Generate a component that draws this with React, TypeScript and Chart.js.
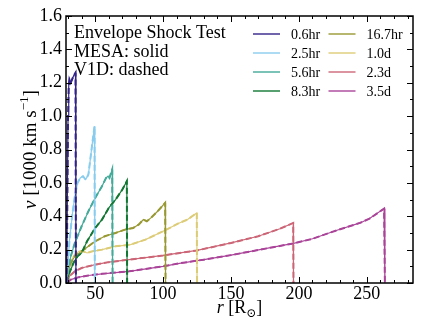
import React, { useEffect, useRef } from "react";
import { Chart, registerables } from "chart.js";
Chart.register(...registerables);

const SERIF = "'Liberation Serif', 'Times New Roman', 'DejaVu Serif', serif";

// ---- data ----
const seriesLabels = ["0.6hr", "2.5hr", "5.6hr", "8.3hr", "16.7hr", "1.0d", "2.3d", "3.5d"];
const seriesColors = ["#332288", "#88CCEE", "#44AA99", "#117733", "#999933", "#DDCC77", "#CC6677", "#AA4499"];

const r_06 = [29, 29.5, 30, 30.5, 31, 32, 33, 34, 35.5, 35.8];
const v_06 = [0, 0.5, 1.0, 1.18, 1.22, 1.2, 1.22, 1.24, 1.26, 0];

const r_25 = [29, 30, 31, 33, 35, 37, 39, 41, 43, 45, 47, 49.5, 49.7];
const v_25 = [0, 0.12, 0.25, 0.4, 0.52, 0.6, 0.63, 0.64, 0.62, 0.65, 0.78, 0.94, 0];

const r_56 = [29, 30, 32, 35, 40, 45, 50, 55, 58, 59.5, 60.5, 62.5, 62.8];
const v_56 = [0, 0.08, 0.16, 0.24, 0.34, 0.43, 0.51, 0.58, 0.63, 0.64, 0.63, 0.68, 0];

const r_83 = [29, 31, 34, 37, 40, 44, 50, 55, 60, 65, 70, 73.3, 73.5];
const v_83 = [0, 0.06, 0.12, 0.16, 0.18, 0.25, 0.33, 0.38, 0.45, 0.5, 0.56, 0.61, 0];

const r_167 = [29, 30, 32, 35, 40, 45, 50, 57, 65, 72, 78, 82, 85.5, 88, 91, 96, 101.5, 101.8];
const v_167 = [0, 0.05, 0.12, 0.16, 0.19, 0.22, 0.25, 0.28, 0.3, 0.32, 0.33, 0.35, 0.38, 0.37, 0.39, 0.43, 0.48, 0];

const r_10 = [29, 30, 32, 35, 38, 41, 44, 48, 55, 65, 76, 87, 100, 112, 118, 124.8, 125];
const v_10 = [0, 0.06, 0.13, 0.17, 0.19, 0.19, 0.18, 0.19, 0.2, 0.22, 0.23, 0.26, 0.31, 0.36, 0.38, 0.42, 0];

const r_23 = [29, 31, 35, 40, 50, 60, 75, 90, 100, 125, 150, 170, 186, 195.8, 196];
const v_23 = [0, 0.04, 0.07, 0.09, 0.11, 0.125, 0.14, 0.155, 0.165, 0.195, 0.24, 0.28, 0.325, 0.36, 0];

const r_35 = [29, 32, 38, 45, 55, 75, 100, 112, 130, 150, 180, 196, 210, 228, 245, 252, 262.7, 263.3];
const v_35 = [0, 0.02, 0.035, 0.045, 0.055, 0.07, 0.1, 0.118, 0.14, 0.167, 0.213, 0.237, 0.265, 0.316, 0.36, 0.386, 0.446, 0];

const seriesR = [r_06, r_25, r_56, r_83, r_167, r_10, r_23, r_35];
const seriesV = [v_06, v_25, v_56, v_83, v_167, v_10, v_23, v_35];

const xTicks = [50, 100, 150, 200, 250];
const yTicks = [0, 0.2, 0.4, 0.6, 0.8, 1.0, 1.2, 1.4, 1.6];
const xMin = 28.5;
const xMax = 284;
const yMin = 0;
const yMax = 1.6;
const xMinorStep = 10;
const yMinorStep = 0.1;

const textLines = ["Envelope Shock Test", "MESA: solid", "V1D: dashed"];

// ---- helpers ----
type Part = { t: string; font: string; dy?: number };
function drawRich(ctx: CanvasRenderingContext2D, parts: Part[], cx: number, cy: number) {
  let w = 0;
  for (const p of parts) {
    ctx.font = p.font;
    w += ctx.measureText(p.t).width;
  }
  let x = cx - w / 2;
  for (const p of parts) {
    ctx.font = p.font;
    ctx.fillText(p.t, x, cy + (p.dy || 0));
    x += ctx.measureText(p.t).width;
  }
}

const framePlugin = {
  id: "frameTicks",
  afterDatasetsDraw(chart: any) {
    const { ctx, chartArea: a, scales } = chart;
    const xs = scales.x;
    const ys = scales.y;
    ctx.save();
    ctx.strokeStyle = "#000";
    ctx.lineWidth = 1;
    ctx.beginPath();
    const nx = Math.round((xMax - 30) / xMinorStep);
    for (let i = 0; i <= nx; i++) {
      const v = 30 + i * xMinorStep;
      if (v > xMax) break;
      const px = Math.round(xs.getPixelForValue(v)) + 0.5;
      const len = v % 50 === 0 ? 6 : 3;
      ctx.moveTo(px, a.bottom);
      ctx.lineTo(px, a.bottom - len);
      ctx.moveTo(px, a.top);
      ctx.lineTo(px, a.top + len);
    }
    const ny = Math.round((yMax - yMin) / yMinorStep);
    for (let i = 0; i <= ny; i++) {
      const v = yMin + i * yMinorStep;
      const py = Math.round(ys.getPixelForValue(v)) + 0.5;
      const len = i % 2 === 0 ? 6 : 3;
      ctx.moveTo(a.left, py);
      ctx.lineTo(a.left + len, py);
      ctx.moveTo(a.right, py);
      ctx.lineTo(a.right - len, py);
    }
    ctx.stroke();
    ctx.lineWidth = 1.5;
    ctx.strokeRect(a.left, a.top, a.right - a.left, a.bottom - a.top);
    ctx.restore();
  },
  afterDraw(chart: any) {
    const { ctx, chartArea: a } = chart;
    ctx.save();
    ctx.fillStyle = "#000";
    ctx.textBaseline = "alphabetic";
    ctx.textAlign = "left";
    // text block
    ctx.font = `18px ${SERIF}`;
    textLines.forEach((t, i) => ctx.fillText(t, a.left + 8, 38 + i * 18.5));
    // legend
    ctx.font = `14px ${SERIF}`;
    ctx.textBaseline = "middle";
    seriesLabels.forEach((lab, i) => {
      const col = Math.floor(i / 4);
      const row = i % 4;
      const y = 34 + row * 19;
      const x0 = 253 + col * 75.5;
      ctx.strokeStyle = seriesColors[i];
      ctx.lineWidth = 1.4;
      ctx.beginPath();
      ctx.moveTo(x0, y);
      ctx.lineTo(x0 + 27, y);
      ctx.stroke();
      ctx.fillStyle = "#000";
      ctx.fillText(lab, x0 + 38, y + 1);
    });
    ctx.textBaseline = "alphabetic";
    // x title
    const cx = (a.left + a.right) / 2;
    drawRich(
      ctx,
      [
        { t: "r", font: `italic 18px ${SERIF}` },
        { t: " [R", font: `18px ${SERIF}` },
        { t: "\u2299", font: `12px ${SERIF}`, dy: 4 },
        { t: "]", font: `18px ${SERIF}` },
      ],
      cx,
      313
    );
    // y title
    ctx.translate(36, (a.top + a.bottom) / 2);
    ctx.rotate(-Math.PI / 2);
    drawRich(
      ctx,
      [
        { t: "v", font: `italic 19px ${SERIF}` },
        { t: " [1000 km s", font: `19px ${SERIF}` },
        { t: "\u22121", font: `13px ${SERIF}`, dy: -8 },
        { t: "]", font: `19px ${SERIF}` },
      ],
      0,
      0
    );
    ctx.restore();
  },
};

export default function App() {
  const ref = useRef<HTMLCanvasElement>(null);
  useEffect(() => {
    const datasets: any[] = [];
    seriesLabels.forEach((lab, i) => {
      const pts = seriesR[i].map((r, k) => ({ x: r, y: seriesV[i][k] }));
      datasets.push({
        label: lab + " MESA",
        data: pts,
        borderColor: seriesColors[i],
        borderWidth: 1.2,
        pointRadius: 0,
        tension: 0,
        order: 20 + i,
      });
      datasets.push({
        label: lab + " V1D",
        data: pts,
        borderColor: seriesColors[i],
        borderWidth: 2,
        borderDash: [6, 3],
        pointRadius: 0,
        tension: 0,
        order: 10 + i,
      });
    });
    const chart = new Chart(ref.current!, {
      type: "line",
      data: { datasets },
      options: {
        animation: false,
        responsive: false,
        devicePixelRatio: 1,
        layout: { padding: { top: 16, right: 23, left: 0, bottom: 0 } },
        plugins: { legend: { display: false }, tooltip: { enabled: false } },
        scales: {
          x: {
            type: "linear",
            min: xMin,
            max: xMax,
            grid: { display: false, drawTicks: false },
            border: { display: false },
            afterBuildTicks: (s: any) => {
              s.ticks = xTicks.map((v) => ({ value: v }));
            },
            afterFit: (s: any) => {
              s.height = 44;
            },
            ticks: {
              color: "#000",
              padding: 0,
              maxRotation: 0,
              autoSkip: false,
              font: { family: SERIF, size: 18 },
              callback: (v: any) => String(v),
            },
          },
          y: {
            type: "linear",
            min: yMin,
            max: yMax,
            grid: { display: false, drawTicks: false },
            border: { display: false },
            afterBuildTicks: (s: any) => {
              s.ticks = yTicks.map((v) => ({ value: v }));
            },
            afterFit: (s: any) => {
              s.width = 66;
            },
            ticks: {
              color: "#000",
              padding: 4,
              autoSkip: false,
              font: { family: SERIF, size: 18 },
              callback: (v: any) => Number(v).toFixed(1),
            },
          },
        },
      },
      plugins: [framePlugin],
    } as any);
    return () => chart.destroy();
  }, []);
  return (
    <div style={{ position: "absolute", left: 0, top: 0, width: 436, height: 327, background: "#fff" }}>
      <canvas ref={ref} width={436} height={327} style={{ width: 436, height: 327, display: "block" }} />
    </div>
  );
}
